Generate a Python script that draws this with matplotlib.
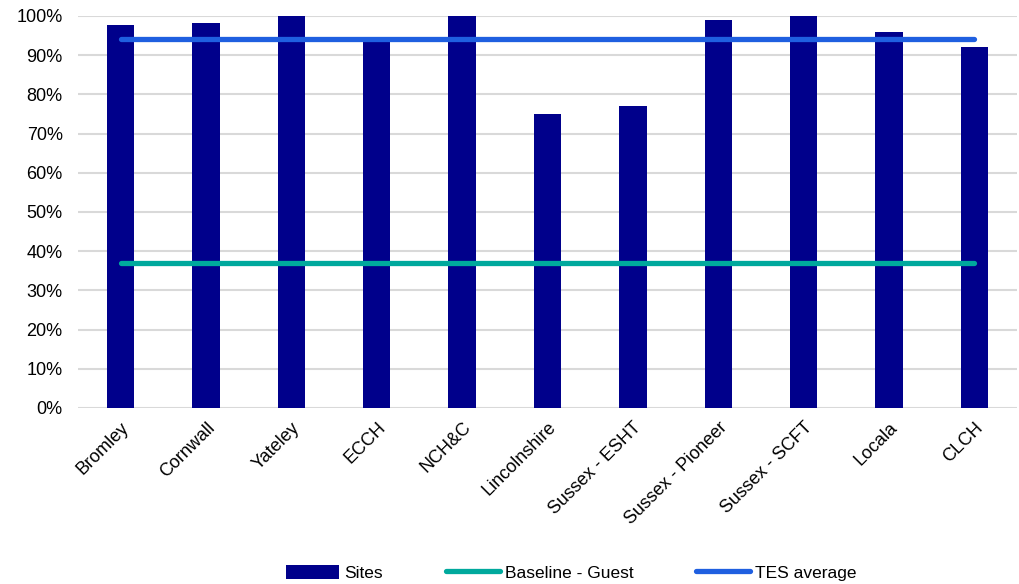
import matplotlib.pyplot as plt
import numpy as np
from matplotlib.ticker import PercentFormatter

plt.rcParams["font.family"] = ["Liberation Sans", "DejaVu Sans"]

sites = ["Bromley", "Cornwall", "Yateley", "ECCH", "NCH&C", "Lincolnshire",
         "Sussex - ESHT", "Sussex - Pioneer", "Sussex - SCFT", "Locala", "CLCH"]
site_values = [97.7, 98.2, 100, 94, 100, 75, 77, 99, 100, 96, 92]
baseline_guest = [37] * len(sites)
tes_average = [94.2] * len(sites)

fig = plt.figure(figsize=(10.19, 5.84), dpi=100)
ax = fig.add_axes([78 / 1019, 1 - 408 / 584, 939 / 1019, 392 / 584])

x = np.arange(len(sites))
bars = ax.bar(x, site_values, width=0.32, color="#00008B", label="Sites", zorder=2)
l1, = ax.plot(x, baseline_guest, color="#00A99D", lw=3.8, solid_capstyle="round",
              label="Baseline - Guest", zorder=3)
l2, = ax.plot(x, tes_average, color="#1F5FE0", lw=3.8, solid_capstyle="round",
              label="TES average", zorder=3)

ax.set_xlim(-0.5, len(sites) - 0.5)
ax.set_ylim(0, 100)
ax.set_yticks(np.arange(0, 101, 10))
ax.yaxis.set_major_formatter(PercentFormatter(decimals=0))
ax.grid(axis="y", color="#D9D9D9", lw=1.5, zorder=0)
for s in ax.spines.values():
    s.set_visible(False)
ax.tick_params(length=0, labelsize=13, colors="#000000")
ax.tick_params(axis="y", pad=11)
ax.tick_params(axis="x", pad=8)
ax.set_xticks(x)
ax.set_xticklabels(sites, rotation=45, ha="right", rotation_mode="anchor")

ax.legend([bars, l1, l2], ["Sites", "Baseline - Guest", "TES average"],
          loc="upper center", bbox_to_anchor=(0.525, -0.36), ncol=3,
          frameon=False, fontsize=12.5, handlelength=3.1, handleheight=0.9,
          columnspacing=3.6, handletextpad=0.3)

fig.savefig("out.png", dpi=100)
